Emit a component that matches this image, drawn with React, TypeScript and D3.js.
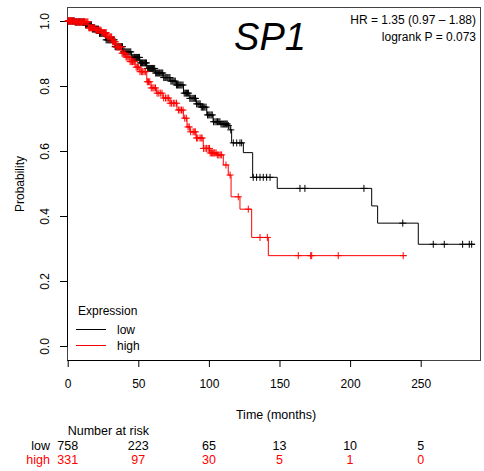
import React, { useEffect, useRef } from 'react';
import * as d3 from 'd3';

// Kaplan-Meier steps (time in months, survival probability)
const lowTime = [0, 5, 12, 17, 22, 27, 33.5, 39, 45, 51, 56, 62, 67.5, 72.5, 77, 82, 86.5, 91, 94, 98.5, 103, 108, 113.5, 115, 116.1, 124.4, 131, 148.4, 215.3, 219.5, 248.3];
const lowSurv = [1, 0.997, 0.988, 0.975, 0.962, 0.942, 0.921, 0.905, 0.888, 0.871, 0.854, 0.84, 0.826, 0.815, 0.803, 0.778, 0.762, 0.745, 0.735, 0.711, 0.69, 0.683, 0.678, 0.665, 0.625, 0.595, 0.519, 0.485, 0.431, 0.378, 0.313];
const lowEnd = 288.5;
const lowCensor = [0.6, 1.2, 1.8, 2.5, 3.0, 3.4, 4.1, 4.6, 5.3, 5.8, 6.2, 6.7, 7.4, 7.9, 8.3, 8.8, 9.5, 10.1, 10.7, 11.3, 11.9, 12.6, 13.0, 13.4, 14.1, 14.7, 15.3, 15.9, 16.4, 16.8, 17.5, 18.2, 18.9, 19.5, 20.0, 20.4, 21.1, 21.8, 22.5, 23.1, 23.7, 24.3, 25.0, 25.6, 26.0, 26.5, 27.2, 27.9, 28.6, 29.2, 29.8, 30.4, 31.0, 31.7, 32.3, 32.9, 33.6, 34.2, 34.9, 35.6, 36.2, 36.8, 37.5, 38.1, 38.8, 39.5, 40.1, 40.6, 41.2, 41.9, 42.6, 43.3, 44.0, 44.7, 45.4, 46.1, 46.8, 47.4, 48.1, 48.8, 49.5, 50.2, 50.9, 51.6, 52.3, 53, 53.8, 54.5, 55.1, 55.8, 56.6, 57.3, 58.0, 58.7, 59.4, 60.1, 60.8, 61.6, 62.3, 63, 63.7, 64.4, 65.1, 65.9, 66.6, 67.3, 68.0, 68.8, 69.5, 70.2, 70.9, 71.7, 72.4, 73.1, 73.9, 74.6, 75.4, 76.2, 77.0, 77.8, 78.6, 79.4, 80.1, 80.9, 81.7, 82.5, 83.3, 84.1, 84.9, 85.6, 86.5, 87.3, 88.1, 88.9, 89.7, 90.5, 91.3, 92.2, 93.0, 93.8, 94.6, 95.5, 96.3, 97.1, 98.0, 99, 99.9, 100.7, 101.6, 102.4, 103.3, 104.3, 105.2, 106.1, 107.0, 107.8, 108.6, 109.4, 110.2, 110.9, 111.6, 112.3, 113.0, 113.8, 115.5, 117.3, 119.7, 122, 123.2, 131.4, 133.8, 136.2, 138.5, 140.9, 143.3, 164.5, 168, 209.8, 237.3, 258.9, 266.7, 279.7, 284.4, 286.1];

const highTime = [0, 5, 14.6, 19.3, 24.1, 27.8, 31.2, 34.2, 38.2, 41.3, 44.1, 47.7, 51.2, 56, 59, 63, 67.5, 72.5, 77.4, 81.9, 84.5, 86.6, 90.9, 96, 100.8, 105.5, 110.2, 113.7, 115.7, 122, 130.3, 142.1];
const highSurv = [1, 0.997, 0.979, 0.972, 0.964, 0.951, 0.936, 0.92, 0.901, 0.889, 0.875, 0.858, 0.844, 0.813, 0.794, 0.778, 0.763, 0.747, 0.726, 0.701, 0.674, 0.659, 0.64, 0.608, 0.594, 0.588, 0.557, 0.526, 0.459, 0.421, 0.334, 0.278];
const highEnd = 240;
const highCensor = [0.2, 0.6, 1.0, 1.4, 1.9, 2.3, 2.7, 3.1, 3.6, 4.2, 4.6, 5.1, 5.7, 6.3, 6.8, 7.2, 7.8, 8.4, 8.9, 9.3, 9.9, 10.5, 11.0, 11.6, 12.0, 12.4, 13.1, 13.7, 14.3, 14.9, 15.5, 16.2, 16.8, 17.4, 18.0, 18.6, 19.2, 19.8, 20.4, 21.1, 21.7, 22.3, 22.9, 23.6, 24.2, 24.8, 25.5, 26.1, 26.7, 27.3, 28.0, 28.6, 29.3, 29.9, 30.5, 31.1, 31.8, 32.4, 33.1, 33.8, 34.4, 35.1, 35.8, 36.5, 37.1, 37.8, 38.5, 39.2, 39.9, 40.5, 41.3, 42, 42.7, 43.4, 44.2, 45.1, 45.9, 46.8, 47.6, 48.5, 49.4, 50.3, 51.2, 52.2, 53.1, 54.1, 55.2, 56.4, 57.2, 58.1, 59.2, 60.3, 61.2, 62.2, 63.3, 64.5, 65.6, 66.8, 68.0, 69.3, 70.4, 71.5, 72.5, 73.6, 74.8, 75.9, 77.1, 78.4, 79.5, 80.6, 81.7, 82.9, 84.0, 85.2, 86.1, 87.1, 88.8, 89.6, 90.4, 91.2, 92.1, 93.7, 94.5, 95.2, 96.2, 97.3, 98.4, 99.5, 100.4, 100.9, 101.8, 102.4, 103, 103.6, 104.2, 105.1, 106, 107.0, 108, 109.0, 112.1, 115, 120.8, 127.9, 136.2, 141.4, 163.3, 172.1, 172.8, 191.6, 237.6];

const riskTimes = [0, 50, 100, 150, 200, 250];
const riskLow = [758, 223, 65, 13, 10, 5];
const riskHigh = [331, 97, 30, 5, 1, 0];
const yTicks = [0, 0.2, 0.4, 0.6, 0.8, 1.0];

const FONT = '"Liberation Sans", Arial, Helvetica, sans-serif';

function survAt(times: number[], surv: number[], t: number) {
  let s = surv[0];
  for (let i = 0; i < times.length; i++) {
    if (times[i] <= t) s = surv[i];
  }
  return s;
}

export default function App() {
  const ref = useRef<SVGSVGElement>(null);

  useEffect(() => {
    const svg = d3.select(ref.current);
    svg.selectAll('*').remove();

    const x = d3.scaleLinear().domain([0, 292]).range([67.7, 480]);
    const y = d3.scaleLinear().domain([0, 1]).range([346, 21]);

    // box
    svg.append('rect')
      .attr('x', 67.5).attr('y', 7.5)
      .attr('width', 413).attr('height', 353)
      .attr('fill', 'none').attr('stroke', '#444');

    // y axis
    const ya = svg.append('g')
      .attr('transform', 'translate(67,0)')
      .call(d3.axisLeft(y).tickValues(yTicks).tickSize(7).tickSizeOuter(0).tickFormat(d3.format('.1f')));
    ya.selectAll('text')
      .attr('transform', 'rotate(-90)')
      .attr('x', 0).attr('y', -22.5).attr('dy', '0.35em')
      .style('text-anchor', 'middle');

    // x axis
    const xa = svg.append('g')
      .attr('transform', 'translate(0,360)')
      .call(d3.axisBottom(x).tickValues(riskTimes).tickSize(7).tickSizeOuter(0));
    xa.select('.domain').remove();
    xa.append('line')
      .attr('x1', x(0)).attr('x2', x(250)).attr('y1', 0.5).attr('y2', 0.5)
      .attr('stroke', '#000');
    xa.selectAll('text').attr('y', 19);

    svg.selectAll('.tick text').style('font-size', '12px').style('font-family', FONT).attr('fill', '#000');

    const line = d3.line<[number, number]>()
      .x(d => x(d[0]))
      .y(d => y(d[1]))
      .curve(d3.curveStepAfter);

    const groups = [
      { times: lowTime, surv: lowSurv, end: lowEnd, censor: lowCensor, color: '#000000' },
      { times: highTime, surv: highSurv, end: highEnd, censor: highCensor, color: '#FF0000' },
    ];

    groups.forEach(g => {
      const pts: [number, number][] = g.times.map((t, i) => [t, g.surv[i]] as [number, number]);
      pts.push([g.end, g.surv[g.surv.length - 1]]);
      svg.append('path')
        .attr('d', line(pts))
        .attr('fill', 'none')
        .attr('stroke', g.color)
        .attr('stroke-width', 1);

      svg.append('g').selectAll('path')
        .data(g.censor)
        .enter().append('path')
        .attr('d', t => {
          const cx = x(t), cy = y(survAt(g.times, g.surv, t));
          return `M${cx - 3.5},${cy}h7M${cx},${cy - 3.5}v7`;
        })
        .attr('stroke', g.color)
        .attr('stroke-width', 1)
        .attr('fill', 'none');
    });

    const txt = (tx: number, ty: number, s: string, anchor = 'start', size = 12, color = '#000') =>
      svg.append('text')
        .attr('x', tx).attr('y', ty)
        .attr('text-anchor', anchor)
        .style('font-family', FONT)
        .style('font-size', size + 'px')
        .attr('fill', color)
        .text(s);

    // axis titles
    svg.append('text')
      .attr('transform', 'translate(20,184) rotate(-90)')
      .attr('text-anchor', 'middle')
      .attr('dy', '0.35em')
      .style('font-family', FONT).style('font-size', '12px')
      .text('Probability');
    txt(276, 418.5, 'Time (months)', 'middle', 12.5);

    // title and stats
    txt(270, 50, 'SP1', 'middle', 38).style('font-style', 'italic');
    txt(476, 24, 'HR = 1.35 (0.97 \u2013 1.88)', 'end', 12);
    txt(476, 41, 'logrank P = 0.073', 'end', 12);

    // legend
    txt(78, 315, 'Expression', 'start', 12);
    svg.append('line').attr('x1', 76).attr('x2', 106).attr('y1', 329.5).attr('y2', 329.5).attr('stroke', '#000');
    svg.append('line').attr('x1', 76).attr('x2', 106).attr('y1', 345.5).attr('y2', 345.5).attr('stroke', '#FF0000');
    txt(117, 333.5, 'low', 'start', 12);
    txt(117, 349.5, 'high', 'start', 12);

    // number at risk
    txt(67.7, 434.5, 'Number at risk', 'start', 12.5);
    txt(50, 449.5, 'low', 'end', 12.5);
    txt(50, 464, 'high', 'end', 12.5, '#FF0000');
    riskTimes.forEach((t, i) => {
      txt(x(t), 449.5, String(riskLow[i]), 'middle', 12.5);
      txt(x(t), 464, String(riskHigh[i]), 'middle', 12.5, '#FF0000');
    });
  }, []);

  return (
    <svg ref={ref} width={484} height={471}
      style={{ position: 'absolute', left: 0, top: 0, background: '#fff' }} />
  );
}
